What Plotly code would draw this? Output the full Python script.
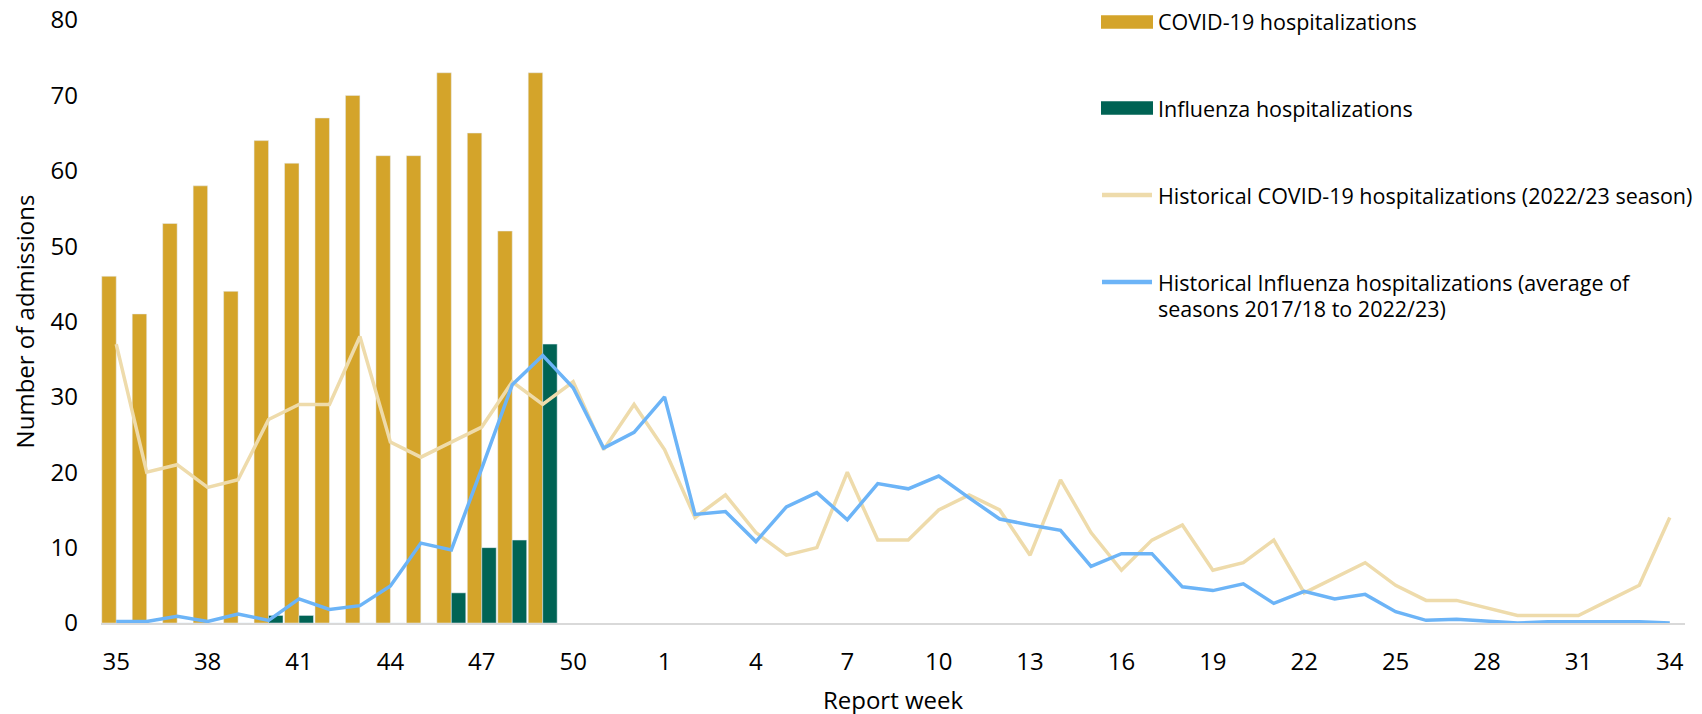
import plotly.graph_objects as go

weeks = [str(w) for w in list(range(35, 53)) + list(range(1, 35))]

covid_weeks = [str(w) for w in range(35, 50)]
covid_hosp = [46, 41, 53, 58, 44, 64, 61, 67, 70, 62, 62, 73, 65, 52, 73]
flu_hosp = [0, 0, 0, 0, 0, 1, 1, 0, 0, 0, 0, 4, 10, 11, 37]

hist_covid = [37, 20, 21, 18, 19, 27, 29, 29, 38, 24, 22, 24, 26, 32, 29, 32,
              23, 29, 23, 14, 17, 12, 9, 10, 20, 11, 11, 15, 17, 15, 9, 19,
              12, 7, 11, 13, 7, 8, 11, 4, 6, 8, 5, 3, 3, 2, 1, 1, 1, 3, 5, 14]
hist_flu = [0.2, 0.2, 0.9, 0.2, 1.2, 0.35, 3.2, 1.8, 2.3, 4.9, 10.6, 9.7, 20.5, 31.6, 35.5, 31.2,
            23.2, 25.3, 30, 14.4, 14.8, 10.8, 15.4, 17.3, 13.7, 18.5, 17.8, 19.5, 16.6, 13.8, 13.0, 12.3,
            7.5, 9.2, 9.2, 4.8, 4.3, 5.2, 2.6, 4.2, 3.2, 3.8, 1.5, 0.35, 0.5, 0.2, 0, 0.15, 0.15, 0.15, 0.15, 0]

tick_labels = weeks[::3]

legend_names = [
    ['COVID-19 hospitalizations'],
    ['Influenza hospitalizations'],
    ['Historical COVID-19 hospitalizations (2022/23 season)'],
    ['Historical Influenza hospitalizations (average of', 'seasons 2017/18 to 2022/23)'],
]

GOLD = '#D4A42A'
GREEN = '#006354'
TAN = '#EEDBAB'
BLUE = '#6CB4F7'

W, H = 1702, 714
# the page body adds an 8px offset, margins compensate for it
M = dict(l=93, r=25, t=12, b=99)
plot_w = W - M['l'] - M['r']
plot_h = H - M['t'] - M['b']


def px(x):
    return (x - M['l']) / plot_w


def py(y):
    return (H - M['b'] - y) / plot_h


fig = go.Figure()

fig.add_trace(go.Bar(x=covid_weeks, y=covid_hosp, marker_color=GOLD, name=legend_names[0][0]))
fig.add_trace(go.Bar(x=covid_weeks, y=flu_hosp, marker_color=GREEN, name=legend_names[1][0]))
fig.add_trace(go.Scatter(x=weeks, y=hist_covid, mode='lines', line=dict(color=TAN, width=3.5),
                         name=legend_names[2][0]))
fig.add_trace(go.Scatter(x=weeks, y=hist_flu, mode='lines', line=dict(color=BLUE, width=3.5),
                         name=' '.join(legend_names[3])))

# hand-made legend: wide swatches + text
legend_style = [(GOLD, 'bar'), (GREEN, 'bar'), (TAN, 'line'), (BLUE, 'line')]
item_y = [14, 100, 187, 274]
line_step = 26.5
for (color, kind), yc, lines in zip(legend_style, item_y, legend_names):
    if kind == 'bar':
        fig.add_shape(type='rect', xref='paper', yref='paper',
                      x0=px(1093), x1=px(1145), y0=py(yc - 6.7), y1=py(yc + 6.7),
                      fillcolor=color, line_width=0)
    else:
        fig.add_shape(type='line', xref='paper', yref='paper',
                      x0=px(1094), x1=px(1144), y0=py(yc), y1=py(yc),
                      line=dict(color=color, width=4.5))
    for k, txt in enumerate(lines):
        fig.add_annotation(text=txt, xref='paper', yref='paper', x=px(1148), y=py(yc + k * line_step),
                           xanchor='left', yanchor='middle', showarrow=False,
                           font=dict(size=21.5, color='#000000'))

fig.update_layout(
    width=W, height=H,
    barmode='group', bargap=0.05, bargroupgap=0,
    font=dict(family='Open Sans', size=20, color='#000000'),
    paper_bgcolor='white', plot_bgcolor='white',
    margin=M,
    showlegend=False,
    xaxis=dict(type='category', categoryorder='array', categoryarray=weeks,
               tickmode='array', tickvals=tick_labels, ticktext=tick_labels,
               showline=True, linecolor='#D9D9D9', linewidth=2, showgrid=False,
               ticks='', range=[-0.5, 51.5], tickfont=dict(size=24),
               ticklabelstandoff=16, automargin=False,
               title=dict(text='Report week', standoff=16, font=dict(size=24))),
    yaxis=dict(range=[0, 80], dtick=10, showgrid=False, zeroline=False, ticks='',
               tickfont=dict(size=24), ticklabelstandoff=22, automargin=False,
               ticklabeloverflow='allow',
               title=dict(text='Number of admissions', standoff=11, font=dict(size=24))),
)

fig.write_html("out.html")
